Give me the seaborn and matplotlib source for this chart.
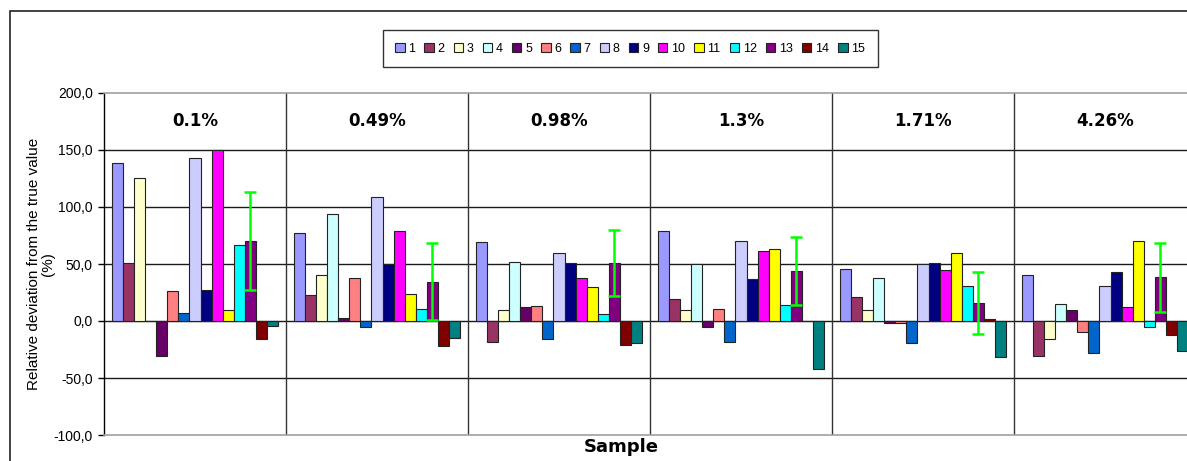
import matplotlib
matplotlib.use("Agg")
import matplotlib.pyplot as plt
import matplotlib.ticker as mticker
from matplotlib.patches import Rectangle
import seaborn as sns
import pandas as pd

# Samples (groups) and the 15 series
samples = ["0.1%", "0.49%", "0.98%", "1.3%", "1.71%", "4.26%"]
series = [str(i) for i in range(1, 16)]

# Relative deviation (%) per sample, series 1..15
dev_010 = [139, 51, 125, 0, -31, 26, 7, 143, 27.5, 150, 9.4, 67, 70, -16, -4.4]
dev_049 = [77, 23, 40, 93.5, 2.6, 38, -5.6, 109, 50, 79, 23.7, 10.2, 34.5, -21.6, -15]
dev_098 = [69, -18, 10, 52, 12, 13, -16, 60, 51, 38, 30, 6.4, 51, -21, -19]
dev_130 = [79, 19, 9.6, 50, -5.3, 10.2, -18, 70, 36.6, 61.4, 63.5, 14, 44, 0, -42]
dev_171 = [46, 21, 10, 38, -2, -1.8, -19, 50, 51, 45, 59.7, 30.4, 16, 1.5, -32]
dev_426 = [40, -31, -16, 15, 9.4, -10, -28, 30.4, 43, 12, 70, -5.6, 38.3, -12, -26]
all_devs = [dev_010, dev_049, dev_098, dev_130, dev_171, dev_426]

# error bars on series 13
err_13 = [43, 34, 29, 30, 27, 30]

colors = ["#9999FF", "#993366", "#FFFFCC", "#CCFFFF", "#660066", "#FF8080",
          "#0066CC", "#CCCCFF", "#000080", "#FF00FF", "#FFFF00", "#00FFFF",
          "#800080", "#800000", "#008080"]

rows = []
for smp, devs in zip(samples, all_devs):
    for ser, v in zip(series, devs):
        rows.append({"sample": smp, "series": ser, "value": v})
df = pd.DataFrame(rows)

sns.set_theme(style="white")
plt.rcParams["font.family"] = ["Liberation Sans", "DejaVu Sans"]
plt.rcParams["text.color"] = "black"
plt.rcParams["axes.labelcolor"] = "black"

fig = plt.figure(figsize=(11.87, 4.61), dpi=100)
ax = fig.add_axes([104 / 1187, 26 / 461, 1092 / 1187, 342 / 461])

sns.barplot(data=df, x="sample", y="value", hue="series", order=samples,
            hue_order=series, palette=colors, saturation=1, width=0.908,
            edgecolor="#222222", linewidth=0.8, legend=False, ax=ax,
            errorbar=None, zorder=3)

# error bars for series 13
bars13 = ax.containers[12]
xs = [p.get_x() + p.get_width() / 2 for p in bars13]
ys = [devs[12] for devs in all_devs]
ax.errorbar(xs, ys, yerr=err_13, fmt="none", ecolor="#00FF00", elinewidth=1.8,
            capsize=4, capthick=1.8, zorder=4)

ax.set_xlim(-0.5, len(samples) - 0.5)
ax.set_ylim(-100, 200)
ax.yaxis.set_major_locator(mticker.MultipleLocator(50))
ax.yaxis.set_major_formatter(mticker.FuncFormatter(lambda v, p: f"{v:.1f}".replace(".", ",")))
ax.tick_params(axis="y", left=True, length=4, width=1, pad=4, labelsize=10, colors="black")
ax.tick_params(axis="x", bottom=False, labelbottom=False)

for yv in [-50, 0, 50, 100, 150]:
    ax.axhline(yv, color="#1a1a1a", lw=1, zorder=1)
for i in range(len(samples) - 1):
    ax.axvline(i + 0.5, color="#333333", lw=1, zorder=1)

for side in ["top", "bottom"]:
    ax.spines[side].set_color("#a0a0a0")
    ax.spines[side].set_linewidth(1.2)
ax.spines["left"].set_color("black")
ax.spines["left"].set_linewidth(1)
ax.spines["right"].set_visible(False)

for i, smp in enumerate(samples):
    ax.text(i, 175, smp, ha="center", va="center", fontsize=12,
            fontweight="bold", family="DejaVu Sans", color="black")

ax.set_xlabel("Sample", fontsize=13, fontweight="bold", family="DejaVu Sans")
ax.xaxis.set_label_coords(0.474, -0.01)
ax.set_ylabel("Relative deviation from the true value\n(%)", fontsize=11,
              linespacing=1.0)
ax.yaxis.set_label_coords(-0.045, 0.5)

handles = [Rectangle((0, 0), 1, 1, facecolor=c, edgecolor="#222222", lw=0.8, label=s)
           for c, s in zip(colors, series)]
leg = fig.legend(handles=handles, ncol=15, loc="center", bbox_to_anchor=(0.531, 0.894),
                 frameon=True, fancybox=False, edgecolor="black", fontsize=9,
                 handlelength=0.75, handleheight=0.75, handletextpad=0.3,
                 columnspacing=0.73, borderpad=1.0)
leg.get_frame().set_linewidth(1)

# outer chart border
fig.add_artist(Rectangle((10 / 1187, -0.2), 1.2, 1.2 - 11 / 461, transform=fig.transFigure,
                         fill=False, edgecolor="#222222", lw=1.2))

fig.savefig("out.png", dpi=100)
